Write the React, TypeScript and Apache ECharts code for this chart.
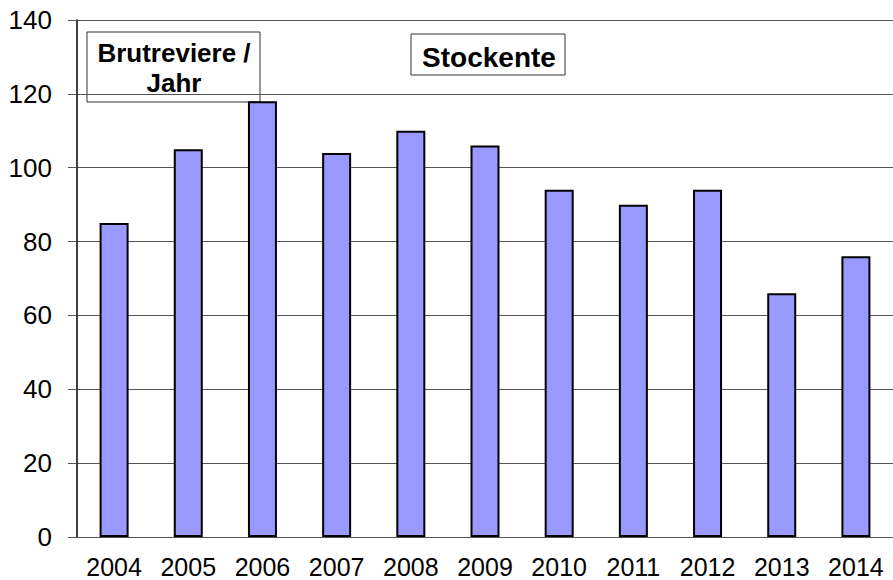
import React, { useEffect, useRef } from "react";
import * as echarts from "echarts";

const years = ["2004", "2005", "2006", "2007", "2008", "2009", "2010", "2011", "2012", "2013", "2014"];
const values = [85, 105, 118, 104, 110, 106, 94, 90, 94, 66, 76];
const yMin = 0;
const yMax = 140;
const yStep = 20;
const yLabelText = "Brutreviere /\nJahr";
const titleText = "Stockente";

const FONT = "'Liberation Sans', Arial, sans-serif";

export default function App() {
  const ref = useRef<HTMLDivElement>(null);
  useEffect(() => {
    if (!ref.current) return;
    const chart = echarts.init(ref.current, undefined, { renderer: "svg" });
    chart.setOption({
      animation: false,
      backgroundColor: "#ffffff",
      grid: { left: 77, right: -11, top: 20, bottom: 43, containLabel: false },
      xAxis: {
        type: "category",
        data: years,
        axisLine: { show: true, lineStyle: { color: "#555555", width: 1 } },
        axisTick: { show: false },
        axisLabel: {
          color: "#000",
          fontFamily: FONT,
          fontSize: 25,
          margin: 17,
          interval: 0,
          hideOverlap: false,
        },
        splitLine: { show: false },
      },
      yAxis: {
        type: "value",
        min: yMin,
        max: yMax,
        interval: yStep,
        axisLine: { show: true, lineStyle: { color: "#000", width: 1.5 } },
        axisTick: { show: true, inside: false, length: 9, lineStyle: { color: "#555555", width: 1 } },
        axisLabel: { color: "#000", fontFamily: FONT, fontSize: 26, margin: 25 },
        splitLine: { show: true, lineStyle: { color: "#555555", width: 1 } },
      },
      series: [
        {
          type: "bar",
          data: values,
          barWidth: 29,
          itemStyle: { color: "#9999FF", borderColor: "#000", borderWidth: 2 },
        },
      ],
      graphic: [
        {
          type: "group",
          children: [
            {
              type: "rect",
              shape: { x: 87, y: 32, width: 173, height: 70 },
              style: { fill: "#fff", stroke: "#333", lineWidth: 1 },
            },
            {
              type: "text",
              x: 174,
              y: 68,
              style: {
                text: yLabelText,
                font: `bold 26px ${FONT}`,
                fill: "#000",
                align: "center",
                verticalAlign: "middle",
                lineHeight: 30,
              },
            },
          ],
        },
        {
          type: "group",
          children: [
            {
              type: "rect",
              shape: { x: 411, y: 34, width: 154, height: 41 },
              style: { fill: "#fff", stroke: "#333", lineWidth: 1 },
            },
            {
              type: "text",
              x: 489,
              y: 57,
              style: {
                text: titleText,
                font: `bold 28px ${FONT}`,
                fill: "#000",
                align: "center",
                verticalAlign: "middle",
              },
            },
          ],
        },
      ],
    });
    return () => chart.dispose();
  }, []);
  return (
    <div
      ref={ref}
      style={{ position: "fixed", left: 0, top: 0, width: 893, height: 580, overflow: "hidden" }}
    />
  );
}
